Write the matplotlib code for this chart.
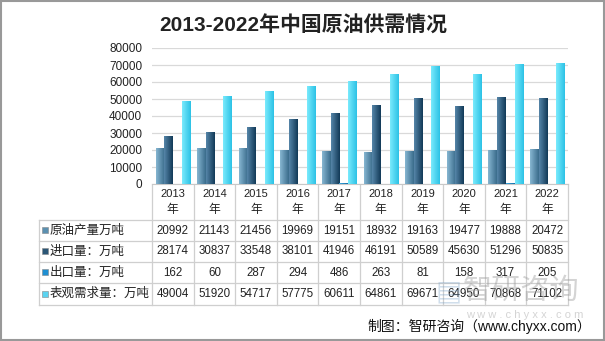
import numpy as np
import matplotlib
matplotlib.use("Agg")
import matplotlib.pyplot as plt
from matplotlib.colors import LinearSegmentedColormap
from matplotlib.patches import Rectangle

plt.rcParams['font.family'] = ['Liberation Sans', 'Noto Sans CJK SC', 'DejaVu Sans']

# Data #
years = ["2013", "2014", "2015", "2016", "2017", "2018", "2019", "2020", "2021", "2022"]
series_names = ["原油产量万吨", "进口量：万吨", "出口量：万吨", "表观需求量：万吨"]
production = [20992, 21143, 21456, 19969, 19151, 18932, 19163, 19477, 19888, 20472]
imports = [28174, 30837, 33548, 38101, 41946, 46191, 50589, 45630, 51296, 50835]
exports = [162, 60, 287, 294, 486, 263, 81, 158, 317, 205]
demand = [49004, 51920, 54717, 57775, 60611, 64861, 69671, 64950, 70868, 71102]
series = [production, imports, exports, demand]

# gradient colours (left edge, right edge) and legend swatch colour
grads = [("#86b6d1", "#3a6c8c"), ("#5585a8", "#123a58"), ("#3aa6e0", "#1670a8"), ("#7aeafc", "#2cc2e6")]
swatch = ["#5b90b0", "#2b5676", "#1f8fd2", "#5ad3f0"]

W, H = 605, 341
fig = plt.figure(figsize=(W / 100, H / 100), dpi=100)
fig.patch.set_facecolor("white")

# chart area in pixels
ax_l, ax_r, ax_t, ax_b = 152, 568, 48, 184
ax = fig.add_axes([ax_l / W, (H - ax_b) / H, (ax_r - ax_l) / W, (ax_b - ax_t) / H])

n = len(years)
x = np.arange(n)
slot = 0.21
for j, vals in enumerate(series):
    bars = ax.bar(x + (j - 1.5) * slot, vals, width=0.2, color=swatch[j], zorder=2)
    cmap = LinearSegmentedColormap.from_list("g%d" % j, grads[j])
    grad = np.linspace(0, 1, 32).reshape(1, -1)
    for b in bars:
        x0, w, h = b.get_x(), b.get_width(), b.get_height()
        im = ax.imshow(grad, cmap=cmap, extent=(x0, x0 + w, 0, h), aspect="auto", zorder=3)
        im.set_clip_path(b)

ax.set_xlim(-0.5, n - 0.5)
ax.set_ylim(0, 80000)
ax.set_yticks(range(0, 80001, 10000))
ax.set_xticks([])
ax.tick_params(axis="y", length=0, pad=7, labelsize=8.5, colors="#222222")
ax.grid(axis="y", color="#d9d9d9", linewidth=0.9, zorder=0)
for s in ["left", "right", "top"]:
    ax.spines[s].set_visible(False)
ax.spines["bottom"].set_color("#c8c8c8")

# overlay in pixel coordinates for the data table
ov = fig.add_axes([0, 0, 1, 1], zorder=-1)
ov.set_xlim(0, W)
ov.set_ylim(H, 0)
ov.axis("off")

tab_l = 39
row_lines = [220, 241, 262, 283, 305]
lc = "#cfcfcf"
colw = (ax_r - ax_l) / n
for y in row_lines:
    ov.plot([tab_l, ax_r], [y, y], color=lc, lw=0.9)
ov.plot([tab_l, tab_l], [row_lines[0], row_lines[-1]], color=lc, lw=0.9)
for k in range(n + 1):
    xx = ax_l + k * colw
    ov.plot([xx, xx], [ax_b, row_lines[-1]], color=lc, lw=0.9)

for i, yr in enumerate(years):
    cx = ax_l + (i + 0.5) * colw
    ov.text(cx, 194, yr, ha="center", va="center", fontsize=8, color="#222222")
    ov.text(cx, 210, "年", ha="center", va="center", fontsize=8.5, color="#222222")

for j, name in enumerate(series_names):
    cy = (row_lines[j] + row_lines[j + 1]) / 2
    ov.add_patch(Rectangle((42, cy - 3.5), 6, 6, facecolor=swatch[j], edgecolor="#888888", lw=0.4))
    ov.text(50, cy, name, ha="left", va="center", fontsize=9, color="#222222")
    for i, v in enumerate(series[j]):
        cx = ax_l + (i + 0.5) * colw
        ov.text(cx, cy, str(v), ha="center", va="center", fontsize=8.3, color="#222222")

# watermark
fig.text(436 / W, 1 - 291 / H, "▤", fontsize=20, color="#7aa3c8", alpha=0.35,
         ha="left", va="center", family=["DejaVu Sans"])
fig.text(463 / W, 1 - 291 / H, "智研咨询", fontsize=21, color="#a0a0a0", alpha=0.45,
         ha="left", va="center", family=["Noto Sans CJK SC"])
fig.text(525 / W, 1 - 315 / H, "w w w . c h y x x . c o m", fontsize=8, color="#b8b8b8",
         alpha=0.6, ha="center", va="center")

fig.text(303 / W, 1 - 26 / H, "2013-2022年中国原油供需情况", fontsize=15, fontweight="bold",
         ha="center", va="center", color="#222222")
fig.text(591 / W, 1 - 326 / H, "制图：智研咨询（www.chyxx.com）", fontsize=10,
         ha="right", va="center", color="#111111")

fig.patches.append(Rectangle((0.0015, 0.0025), 0.997, 0.995, transform=fig.transFigure,
                             fill=False, edgecolor="#999999", lw=1.5))

fig.savefig("out.png", dpi=100)
